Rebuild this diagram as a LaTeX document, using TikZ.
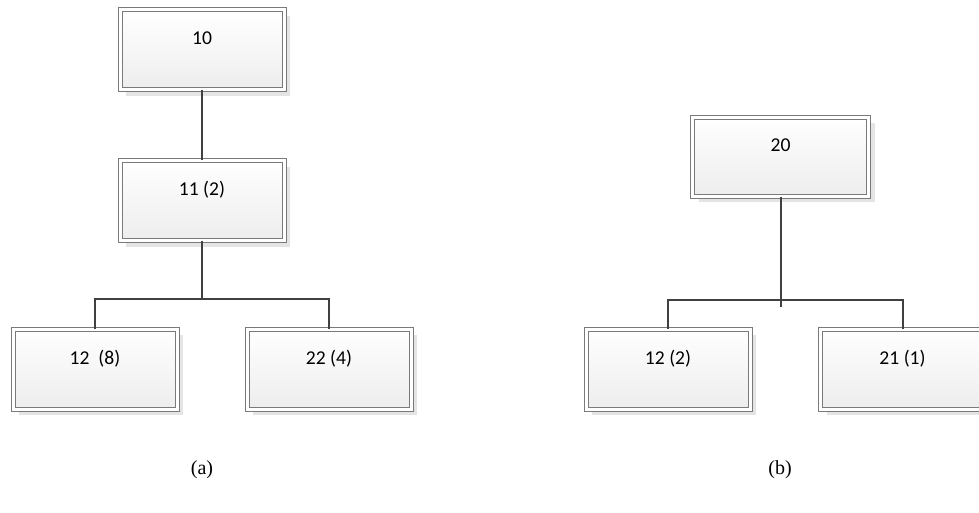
\documentclass[tikz,border=0pt]{standalone}
\usepackage{fontspec}
\setmainfont{Liberation Serif}
\newfontfamily\boxfont{Carlito}
\usepackage{tikz}
\usetikzlibrary{positioning,shadows}
\definecolor{edge}{HTML}{7A7A7A}
\definecolor{wire}{HTML}{404040}
\definecolor{shade}{HTML}{E4E4E4}

\begin{document}
\begin{tikzpicture}[
  x=0.5pt, y=-0.5pt,
  font=\boxfont\fontsize{9.8}{12}\selectfont,
  box/.style={draw=edge, line width=0.5pt, double=white, double distance=1.5pt,
    top color=white, bottom color=black!7,
    drop shadow={shadow xshift=3pt, shadow yshift=-3pt, fill=shade, opacity=1},
    minimum width=82pt, inner xsep=0pt, inner ysep=0pt, align=center,
    text height=17.5pt, text depth=22.5pt},
  wide/.style={box, minimum width=88pt, text height=17pt, text depth=22.5pt},
  link/.style={draw=wire, line width=1pt},
  caption/.style={font=\rmfamily\fontsize{10}{12}\selectfont}
]
\useasboundingbox (0,0) rectangle (979,513);
% tree (a)
\node[box] (n10) at (202,50) {10};
\node[box, below=35pt of n10] (n11) {11 (2)};
\node[box] (n12) at (95,369) {12\ \ (8)};
\node[box, right=34.5pt of n12] (n22) {22 (4)};
\coordinate (ja) at (202,299);
\draw[link] (n10) -- (n11);
\draw[link] (n11) -- (ja);
\draw[link] (n12.north) -- (n12.north |- ja) -- (n22.north |- ja) -- (n22.north);
% tree (b)
\node[wide] (n20) at (780.5,157) {20};
\node[box] (m12) at (668,369) {12 (2)};
\node[box] (n21) at (902.5,369) {21 (1)};
\coordinate (jb) at (780.5,300);
\coordinate (tb) at (780.5,307);
\draw[link] (n20) -- (tb);
\draw[link] (m12.north) -- (m12.north |- jb) -- (n21.north |- jb) -- (n21.north);
% captions
\node[caption] (ca) at (202,470) {(a)};
\node[caption] (cb) at (780,470) {(b)};
\end{tikzpicture}
\end{document}
